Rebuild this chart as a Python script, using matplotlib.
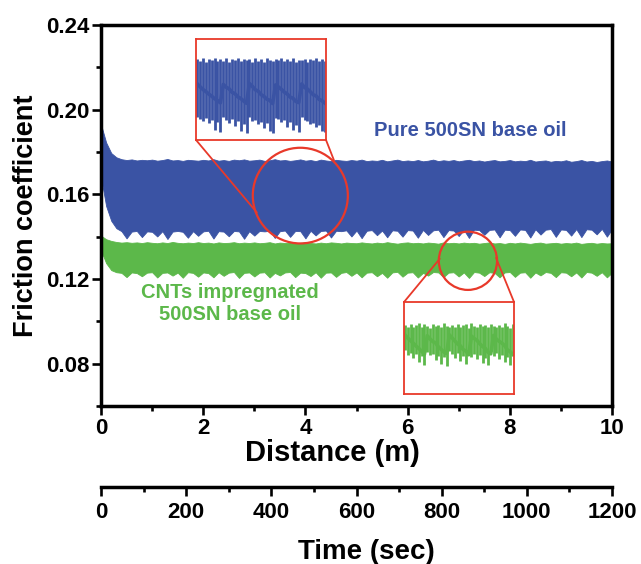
import numpy as np
import matplotlib
matplotlib.use("Agg")
import matplotlib.pyplot as plt
from matplotlib.patches import Ellipse, ConnectionPatch

plt.rcParams['font.family'] = ['Liberation Sans', 'DejaVu Sans']
plt.rcParams['font.weight'] = 'bold'

# Sliding distance grid (m), one sample every 0.1 m
distance = np.round(np.arange(0, 10.01, 0.1), 1)

# Envelope of the friction trace, pure 500SN base oil
blue_top = [0.1930, 0.1845, 0.1795, 0.1775, 0.1766, 0.1762, 0.1765, 0.1760, 0.1763, 0.1761,
            0.1764, 0.1759, 0.1762, 0.1767, 0.1760, 0.1762, 0.1758, 0.1763, 0.1761, 0.1759,
            0.1763, 0.1760, 0.1766, 0.1759, 0.1762, 0.1758, 0.1764, 0.1761, 0.1765, 0.1759,
            0.1761, 0.1764, 0.1758, 0.1761, 0.1766, 0.1760, 0.1762, 0.1758, 0.1761, 0.1765,
            0.1759, 0.1762, 0.1757, 0.1764, 0.1760, 0.1757, 0.1763, 0.1760, 0.1758, 0.1762,
            0.1759, 0.1764, 0.1757, 0.1760, 0.1758, 0.1763, 0.1756, 0.1760, 0.1764, 0.1757,
            0.1760, 0.1757, 0.1762, 0.1756, 0.1759, 0.1764, 0.1757, 0.1761, 0.1758, 0.1762,
            0.1756, 0.1760, 0.1763, 0.1757, 0.1760, 0.1755, 0.1759, 0.1762, 0.1756, 0.1758,
            0.1762, 0.1756, 0.1759, 0.1757, 0.1763, 0.1755, 0.1758, 0.1760, 0.1754, 0.1758,
            0.1756, 0.1761, 0.1754, 0.1757, 0.1762, 0.1755, 0.1758, 0.1753, 0.1757, 0.1760, 0.1755]
blue_bot = [0.1680, 0.1545, 0.1475, 0.1440, 0.1426, 0.1392, 0.1424, 0.1427, 0.1398, 0.1425,
            0.1423, 0.1401, 0.1426, 0.1389, 0.1424, 0.1427, 0.1423, 0.1395, 0.1426, 0.1404,
            0.1425, 0.1428, 0.1391, 0.1426, 0.1424, 0.1402, 0.1427, 0.1425, 0.1390, 0.1426,
            0.1405, 0.1427, 0.1425, 0.1428, 0.1394, 0.1426, 0.1429, 0.1399, 0.1427, 0.1426,
            0.1392, 0.1428, 0.1406, 0.1427, 0.1429, 0.1396, 0.1428, 0.1426, 0.1430, 0.1401,
            0.1429, 0.1393, 0.1428, 0.1431, 0.1407, 0.1429, 0.1397, 0.1430, 0.1428, 0.1400,
            0.1431, 0.1429, 0.1395, 0.1432, 0.1408, 0.1430, 0.1433, 0.1398, 0.1431, 0.1429,
            0.1403, 0.1432, 0.1394, 0.1433, 0.1431, 0.1409, 0.1432, 0.1434, 0.1397, 0.1433,
            0.1431, 0.1404, 0.1434, 0.1432, 0.1396, 0.1435, 0.1410, 0.1433, 0.1436, 0.1399,
            0.1434, 0.1432, 0.1405, 0.1436, 0.1398, 0.1435, 0.1433, 0.1411, 0.1437, 0.1400, 0.1436]

# Envelope of the friction trace, CNTs impregnated oil
green_top = [0.1405, 0.1388, 0.1380, 0.1375, 0.1372, 0.1374, 0.1371, 0.1373, 0.1370, 0.1374,
             0.1371, 0.1369, 0.1373, 0.1370, 0.1375, 0.1371, 0.1369, 0.1372, 0.1370, 0.1374,
             0.1370, 0.1372, 0.1368, 0.1373, 0.1370, 0.1371, 0.1374, 0.1369, 0.1372, 0.1370,
             0.1373, 0.1369, 0.1371, 0.1374, 0.1368, 0.1372, 0.1370, 0.1373, 0.1369, 0.1371,
             0.1374, 0.1370, 0.1368, 0.1372, 0.1369, 0.1373, 0.1371, 0.1368, 0.1372, 0.1370,
             0.1369, 0.1373, 0.1370, 0.1368, 0.1372, 0.1369, 0.1374, 0.1370, 0.1367, 0.1371,
             0.1373, 0.1369, 0.1371, 0.1368, 0.1372, 0.1370, 0.1367, 0.1373, 0.1369, 0.1371,
             0.1368, 0.1372, 0.1369, 0.1371, 0.1367, 0.1370, 0.1373, 0.1368, 0.1370, 0.1366,
             0.1371, 0.1368, 0.1372, 0.1369, 0.1366, 0.1370, 0.1372, 0.1367, 0.1369, 0.1371,
             0.1367, 0.1370, 0.1368, 0.1372, 0.1366, 0.1369, 0.1371, 0.1367, 0.1370, 0.1368, 0.1369]
green_bot = [0.1335, 0.1275, 0.1242, 0.1232, 0.1229, 0.1209, 0.1231, 0.1228, 0.1213, 0.1230,
             0.1232, 0.1207, 0.1229, 0.1231, 0.1216, 0.1230, 0.1206, 0.1232, 0.1229, 0.1211,
             0.1231, 0.1228, 0.1208, 0.1232, 0.1215, 0.1230, 0.1233, 0.1205, 0.1229, 0.1231,
             0.1212, 0.1230, 0.1232, 0.1207, 0.1229, 0.1217, 0.1231, 0.1233, 0.1209, 0.1230,
             0.1228, 0.1214, 0.1232, 0.1206, 0.1230, 0.1231, 0.1210, 0.1229, 0.1233, 0.1215,
             0.1231, 0.1208, 0.1230, 0.1232, 0.1213, 0.1229, 0.1206, 0.1231, 0.1234, 0.1211,
             0.1230, 0.1232, 0.1207, 0.1229, 0.1216, 0.1233, 0.1231, 0.1209, 0.1230, 0.1232,
             0.1212, 0.1231, 0.1205, 0.1233, 0.1230, 0.1214, 0.1232, 0.1229, 0.1208, 0.1231,
             0.1233, 0.1210, 0.1230, 0.1232, 0.1206, 0.1231, 0.1217, 0.1233, 0.1229, 0.1209,
             0.1232, 0.1230, 0.1213, 0.1231, 0.1207, 0.1233, 0.1230, 0.1215, 0.1232, 0.1208, 0.1230]

# Magnified stretch of the pure oil trace: spike tops, spike bottoms, running level
blue_zoom_hi = [0.1712, 0.1705, 0.1716, 0.1700, 0.1714, 0.1708, 0.1718, 0.1703, 0.1711,
                0.1706, 0.1717, 0.1701, 0.1713, 0.1709, 0.1719, 0.1704, 0.1712, 0.1707,
                0.1715, 0.1702, 0.1718, 0.1706, 0.1713, 0.1700, 0.1716, 0.1709, 0.1704,
                0.1714, 0.1708, 0.1719, 0.1703, 0.1711, 0.1706, 0.1717, 0.1701, 0.1710,
                0.1707, 0.1715, 0.1702, 0.1713, 0.1709, 0.1718, 0.1704, 0.1712, 0.1706]
blue_zoom_lo = [0.1462, 0.1450, 0.1441, 0.1455, 0.1432, 0.1446, 0.1403, 0.1438, 0.1395,
                0.1458, 0.1447, 0.1436, 0.1452, 0.1420, 0.1443, 0.1398, 0.1430, 0.1392,
                0.1460, 0.1444, 0.1449, 0.1428, 0.1440, 0.1412, 0.1434, 0.1400, 0.1390,
                0.1456, 0.1451, 0.1437, 0.1445, 0.1418, 0.1439, 0.1405, 0.1427, 0.1396,
                0.1461, 0.1448, 0.1442, 0.1431, 0.1435, 0.1415, 0.1426, 0.1401, 0.1393]
blue_zoom_mid = [0.1605, 0.1592, 0.1580, 0.1571, 0.1560, 0.1551, 0.1540, 0.1532, 0.1522,
                 0.1602, 0.1590, 0.1583, 0.1568, 0.1562, 0.1548, 0.1541, 0.1530, 0.1520,
                 0.1606, 0.1594, 0.1579, 0.1573, 0.1558, 0.1550, 0.1538, 0.1533, 0.1519,
                 0.1600, 0.1591, 0.1581, 0.1569, 0.1561, 0.1547, 0.1542, 0.1528, 0.1523,
                 0.1604, 0.1589, 0.1582, 0.1570, 0.1557, 0.1552, 0.1537, 0.1531, 0.1521]

# Magnified stretch of the CNT oil trace
green_zoom_hi = [0.1346, 0.1340, 0.1349, 0.1337, 0.1344, 0.1350, 0.1339, 0.1347, 0.1342, 0.1336,
                 0.1348, 0.1341, 0.1345, 0.1338, 0.1351, 0.1343, 0.1337, 0.1346, 0.1340, 0.1349,
                 0.1338, 0.1344, 0.1347, 0.1336, 0.1350, 0.1342, 0.1339, 0.1348, 0.1341, 0.1345,
                 0.1337, 0.1349, 0.1343, 0.1340, 0.1346, 0.1338, 0.1350, 0.1342, 0.1336, 0.1347]
green_zoom_lo = [0.1262, 0.1248, 0.1255, 0.1236, 0.1250, 0.1224, 0.1243, 0.1215, 0.1258, 0.1246,
                 0.1252, 0.1231, 0.1245, 0.1219, 0.1240, 0.1212, 0.1260, 0.1249, 0.1238, 0.1253,
                 0.1227, 0.1244, 0.1217, 0.1256, 0.1242, 0.1251, 0.1233, 0.1247, 0.1221, 0.1239,
                 0.1213, 0.1259, 0.1245, 0.1254, 0.1235, 0.1248, 0.1223, 0.1241, 0.1216, 0.1250]
green_zoom_mid = [0.1312, 0.1302, 0.1294, 0.1285, 0.1276, 0.1268, 0.1259, 0.1250,
                  0.1310, 0.1300, 0.1291, 0.1287, 0.1274, 0.1266, 0.1257, 0.1252,
                  0.1313, 0.1303, 0.1293, 0.1283, 0.1277, 0.1265, 0.1260, 0.1248,
                  0.1309, 0.1301, 0.1295, 0.1284, 0.1275, 0.1269, 0.1256, 0.1251,
                  0.1311, 0.1299, 0.1292, 0.1286, 0.1278, 0.1264, 0.1258, 0.1249]

SEC_PER_M = 120.0   # 10 m covered in 1200 s

BLUE = '#3a53a4'
GREEN = '#5cb84a'
RED = '#e8392a'

fig = plt.figure(figsize=(6.41, 5.64), dpi=100)
ax = fig.add_axes([0.1576, 0.2801, 0.7972, 0.6756])

ax.fill_between(distance, blue_bot, blue_top, color=BLUE, lw=0.6, edgecolor=BLUE)
ax.fill_between(distance, green_bot, green_top, color=GREEN, lw=0.6, edgecolor=GREEN)

ax.set_xlim(0, 10)
ax.set_ylim(0.06, 0.24)
ax.set_xticks([0, 2, 4, 6, 8, 10])
ax.set_xticks([1, 3, 5, 7, 9], minor=True)
ax.set_yticks([0.08, 0.12, 0.16, 0.20, 0.24])
ax.set_yticks([0.06, 0.10, 0.14, 0.18, 0.22], minor=True)
ax.set_yticklabels(['0.08', '0.12', '0.16', '0.20', '0.24'])

for s in ax.spines.values():
    s.set_linewidth(2.5)
ax.tick_params(which='major', length=6.5, width=1.9, labelsize=16, pad=2,
               top=False, right=False)
ax.tick_params(which='minor', length=3.5, width=1.9, top=False, right=False)
ax.set_xlabel('Distance (m)', fontsize=21, fontweight='bold', labelpad=0)
ax.xaxis.label.set_x(0.452)
ax.set_ylabel('Friction coefficient', fontsize=19.5, fontweight='bold', labelpad=5)

# time axis below the distance axis
tax = ax.secondary_xaxis(-0.2126, functions=(lambda d: d * SEC_PER_M,
                                              lambda t: t / SEC_PER_M))
tax.set_xticks([0, 200, 400, 600, 800, 1000, 1200])
tax.set_xticks([100, 300, 500, 700, 900, 1100], minor=True)
tax.spines['bottom'].set_linewidth(2.5)
tax.tick_params(which='major', length=6.5, width=1.9, labelsize=16, pad=4)
tax.tick_params(which='minor', length=3.5, width=1.9)
tax.set_xlabel('Time (sec)', fontsize=20, fontweight='bold', labelpad=12)
tax.xaxis.label.set_x(0.52)

# labels for both oils
ax.text(7.22, 0.1902, 'Pure 500SN base oil', color=BLUE, fontsize=14.5,
        fontweight='bold', ha='center', va='center')
ax.text(2.52, 0.1083, 'CNTs impregnated\n500SN base oil', color=GREEN, fontsize=14.5,
        fontweight='bold', ha='center', va='center', linespacing=1.2)

# circled regions on the main traces
ax.add_patch(Ellipse((3.9, 0.1594), 1.86, 0.0452, fill=False, ec=RED, lw=1.6))
ax.add_patch(Ellipse((7.18, 0.1286), 1.14, 0.0275, fill=False, ec=RED, lw=1.6))

# magnified views
def zoom_box(rect, hi, lo, mid, color, ylim):
    iax = fig.add_axes(rect)
    idx = np.arange(len(hi))
    iax.vlines(idx, lo, hi, color=color, lw=2.0)
    iax.plot(idx, mid, color=color, lw=2.6)
    iax.set_xlim(-0.4, len(hi) - 0.6)
    iax.set_ylim(*ylim)
    iax.set_xticks([])
    iax.set_yticks([])
    for s in iax.spines.values():
        s.set_color(RED)
        s.set_linewidth(1.3)
    return iax

bax = zoom_box([0.3058, 0.7518, 0.2028, 0.179], blue_zoom_hi, blue_zoom_lo,
               blue_zoom_mid, BLUE, (0.136, 0.180))
gax = zoom_box([0.6303, 0.3014, 0.1716, 0.1631], green_zoom_hi, green_zoom_lo,
               green_zoom_mid, GREEN, (0.112, 0.142))

for iax, corner, target in [(bax, (0, 0), (3.05, 0.1514)), (bax, (1, 0), (4.56, 0.1760)),
                            (gax, (0, 1), (6.63, 0.1296)), (gax, (1, 1), (7.73, 0.1300))]:
    fig.add_artist(ConnectionPatch(xyA=corner, coordsA=iax.transAxes,
                                   xyB=target, coordsB=ax.transData,
                                   color=RED, lw=1.3))

fig.savefig('out.png', dpi=100)
